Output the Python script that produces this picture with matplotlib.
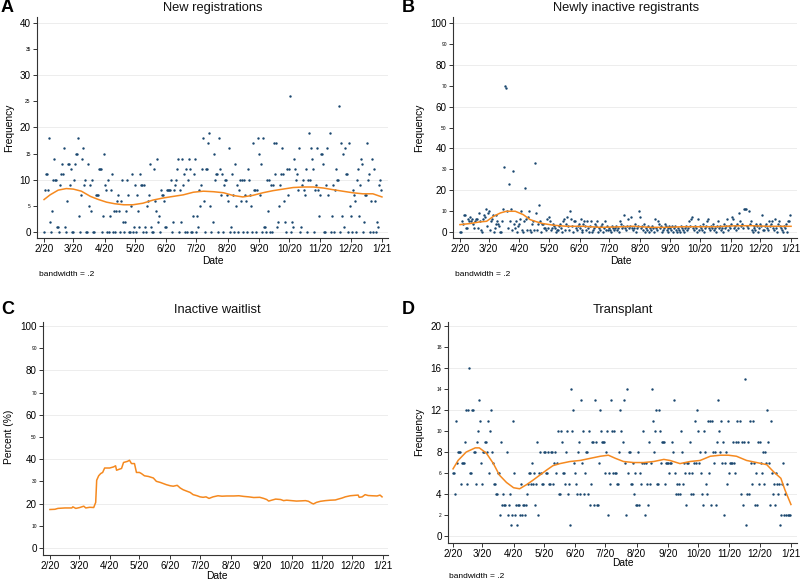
import numpy as np
import pandas as pd
import matplotlib
matplotlib.use("Agg")
import matplotlib.pyplot as plt
from matplotlib.ticker import FixedLocator, FixedFormatter

plt.rcParams['font.family'] = ['Liberation Sans', 'DejaVu Sans']

START = pd.Timestamp("2020-02-01")

# ---- tick labels ----
month_labels = ["2/20", "3/20", "4/20", "5/20", "6/20", "7/20", "8/20",
                "9/20", "10/20", "11/20", "12/20", "1/21"]
month_starts = pd.date_range("2020-02-01", "2021-01-01", freq="MS")

# ---- A: new registrations (daily counts, Feb..Dec 2020) ----
reg_feb = [0,8,11,11,8,18,2,0,4,10,14,10,10,1,1,0,9,11,13,11,16,1,0,6,13,13,9,12,0]
reg_mar = [0,10,13,15,15,18,3,0,7,14,16,9,10,0,0,13,5,9,4,10,0,0,7,7,7,12,12,12,0,3,15]
reg_apr = [9,8,0,10,0,3,8,11,0,4,0,4,6,7,4,0,6,10,2,0,2,4,10,7,0,0,5,11,0,1]
reg_may = [9,0,7,4,1,11,9,9,0,9,1,0,5,6,7,13,1,0,0,12,6,4,14,2,3,0,8,7,7,6,1]
reg_jun = [1,8,8,8,8,10,0,2,8,9,10,12,14,0,8,2,14,9,11,0,12,0,10,14,12,0,0,3,11,14]
reg_jul = [0,3,1,8,5,9,12,18,6,0,12,12,17,19,5,0,2,15,10,11,11,0,18,12,7,11,0,9,10,10,7]
reg_aug = [6,16,0,1,11,7,0,13,5,9,0,8,10,6,10,0,10,7,6,0,12,10,7,5,0,17,8,8,0,8,18]
reg_sep = [15,7,13,0,18,1,1,0,10,4,10,0,9,0,9,17,11,17,1,2,5,9,11,16,11,6,2,0,12,7]
reg_oct = [12,26,0,2,1,14,12,10,11,8,16,0,1,9,10,8,7,12,0,10,19,10,16,14,12,0,8,9,16,8,3]
reg_nov = [7,15,15,13,0,0,9,16,7,19,0,3,9,0,8,12,10,10,24,0,17,3,15,1,16,11,11,0,17,5]
reg_dec = [3,0,8,7,6,0,10,12,3,9,14,13,0,2,7,7,17,10,11,0,6,14,0,12,6,0,2,1,9,10,8]
new_reg = (reg_feb + reg_mar + reg_apr + reg_may + reg_jun + reg_jul + reg_aug
           + reg_sep + reg_oct + reg_nov + reg_dec)

# lowess fit (bandwidth .2): day offset, value
reg_fit_day = [0,6,14,22,29,37,46,54,62,70,79,88,98,108,118,128,138,148,158,168,
               178,187,197,207,217,227,237,247,257,267,277,286,296,306,316,326,335]
reg_fit_val = [6.2,7.1,8.0,8.3,8.2,7.8,6.8,6.2,5.7,5.4,5.2,5.2,5.5,6.1,6.5,6.8,7.1,
               7.6,7.8,7.7,7.5,7.0,6.7,7.0,7.5,7.9,8.2,8.5,8.6,8.6,8.4,8.1,7.8,7.5,
               7.3,7.3,6.7]

# ---- B: newly inactive registrants ----
ina_feb = [0,0,5,4,8,8,2,2,6,5,7,5,6,4,2,5,6,6,2,9,5,1,0,6,8,7,11,3,9]
ina_mar = [10,1,5,6,8,0,2,8,4,5,4,3,0,0,5,11,31,70,69,10,2,23,5,11,1,29,4,2,5,0,3]
ina_apr = [4,6,10,1,0,5,21,6,1,7,10,1,0,4,5,1,33,9,1,4,13,5,0,4,4,2,2,1,6,2]
ina_may = [7,5,1,2,4,3,2,0,1,1,3,4,2,0,5,6,1,4,7,3,1,10,6,3,0,5,5,2,1,3,4]
ina_jun = [2,6,0,1,4,5,3,1,5,2,0,3,5,0,1,2,4,3,5,0,2,1,3,4,0,2,5,1,3,1]
ina_jul = [2,1,0,3,2,1,2,3,1,2,0,5,4,2,3,8,2,1,3,6,2,3,7,2,1,2,4,0,2,3,10]
ina_aug = [7,2,3,1,4,0,2,1,3,0,2,1,3,2,0,6,2,1,5,4,2,3,0,1,2,4,3,1,0,2,3]
ina_sep = [2,1,3,0,2,3,1,0,2,1,0,3,2,1,0,2,3,1,2,5,3,6,7,2,1,3,2,0,6,1]
ina_oct = [3,2,1,4,0,2,3,5,6,2,1,3,2,4,1,2,0,3,5,2,3,1,2,0,4,2,3,6,1,3,2]
ina_nov = [4,7,6,2,3,1,4,2,9,5,3,4,2,11,11,11,3,2,10,4,5,1,0,3,2,1,4,3,0,2]
ina_dec = [4,3,8,1,1,3,4,2,1,5,3,4,5,2,1,6,2,0,4,5,3,2,1,0,3,2,4,0,5,5,8]
new_inactive = (ina_feb + ina_mar + ina_apr + ina_may + ina_jun + ina_jul + ina_aug
                + ina_sep + ina_oct + ina_nov + ina_dec)

ina_fit_day = [0,10,20,27,34,41,47,56,64,71,78,84,95,108,125,142,159,176,193,209,
               226,243,260,277,294,311,335]
ina_fit_val = [3.5,4.0,4.8,5.1,7.5,9.1,9.9,9.9,8.3,5.9,4.8,4.0,3.2,2.7,2.7,2.2,2.4,
               2.7,2.2,2.2,2.5,2.5,2.5,2.9,3.0,2.7,2.7]

# ---- C: inactive waitlist percent ----
wl_day = [0,5,8,15,22,23,26,30,34,36,40,44,46,47,49,51,53,55,60,64,66,67,70,72,74,
          78,80,82,85,87,90,92,95,99,104,107,111,114,117,121,124,128,131,134,138,
          141,144,148,151,154,157,160,164,169,173,178,185,190,195,200,205,211,215,
          218,220,223,227,232,235,238,243,248,253,257,260,263,265,268,272,277,282,
          287,290,294,297,302,307,310,311,314,317,320,324,329,332,334]
wl_pct = [17.3,17.4,17.8,18.0,18.0,18.5,17.8,18.2,18.8,18.0,18.3,18.2,20.5,30.5,
          32.5,33.5,34.0,36.0,36.0,36.5,37.0,35.0,35.5,35.8,38.5,39.0,39.5,38.0,
          38.0,34.0,34.0,33.5,32.5,32.2,31.5,30.0,29.5,29.0,28.5,28.0,27.8,28.2,
          27.0,26.2,25.5,25.0,24.0,23.5,23.0,22.8,23.0,22.3,23.0,23.5,23.3,23.4,
          23.4,23.5,23.2,23.0,22.7,22.8,22.3,21.8,21.1,21.5,22.0,21.8,21.3,21.5,
          21.3,21.1,21.2,21.3,21.0,20.2,19.8,20.5,21.0,21.3,21.5,21.6,22.0,22.5,
          23.0,23.5,23.7,23.8,22.8,23.0,24.0,23.6,23.5,23.4,23.8,23.0]

# ---- D: transplant ----
tx_feb = [6,6,4,11,7,8,8,8,5,7,7,7,9,12,5,12,16,6,6,12,12,8,8,5,9,10,13,11,7]
tx_mar = [5,8,8,9,9,8,11,6,10,12,8,7,5,5,4,4,6,6,2,9,3,4,3,3,8,2,3,4,1,2,11]
tx_apr = [6,2,3,1,3,3,2,5,2,3,3,2,3,4,5,6,6,5,7,5,6,3,5,9,2,6,8,6,5,5]
tx_may = [8,8,6,6,8,5,5,8,8,5,7,8,6,7,10,4,4,10,9,6,6,5,8,10,4,5,1,14,10,12,7]
tx_jun = [6,5,4,8,9,4,13,7,10,4,6,8,8,4,10,3,5,9,9,3,13,9,3,3,7,12,10,9,9,9]
tx_jul = [6,8,10,2,6,5,13,10,6,10,6,6,5,5,8,12,10,9,13,7,2,14,6,8,8,5,5,7,4,6,3]
tx_aug = [3,8,3,6,5,7,10,7,2,7,5,3,9,5,7,14,11,8,10,12,5,5,12,10,7,9,9,9,5,7,7]
tx_sep = [7,6,7,7,9,8,13,6,4,5,4,5,4,10,8,5,7,6,3,7,7,6,9,4,6,4,7,11,7,12]
tx_oct = [10,7,8,6,4,3,10,8,5,4,11,6,11,3,11,8,7,8,3,9,13,10,8,11,7,9,2,7,8,5,11]
tx_nov = [6,7,7,7,9,7,6,9,11,9,11,4,9,3,9,15,1,4,9,4,11,7,5,11,7,3,6,3,9,5]
tx_dec = [9,7,6,8,5,8,7,12,9,7,3,11,6,4,5,3,6,5,4,5,1,2,5,7,2,4,2,5,2,2,2]
transplant = (tx_feb + tx_mar + tx_apr + tx_may + tx_jun + tx_jul + tx_aug
              + tx_sep + tx_oct + tx_nov + tx_dec)

tx_fit_day = [0,5,13,22,26,33,40,46,53,60,66,73,79,86,93,99,106,116,126,136,146,154,
              161,169,179,189,199,209,215,225,235,245,255,265,273,281,291,301,311,
              318,325,329,335]
tx_fit_val = [6.4,7.2,8.0,8.4,8.4,7.9,6.9,5.8,5.1,4.6,4.5,4.9,5.3,5.8,6.3,6.7,6.9,
              7.1,7.2,7.4,7.6,7.7,7.4,7.1,7.0,7.0,7.1,7.3,7.2,6.9,7.1,7.2,7.6,7.7,
              7.7,7.6,7.2,7.0,6.8,6.1,5.5,4.4,3.0]

NAVY = "#1a476f"
ORANGE = "#f5891f"
W, H = 800, 581


def days(offsets):
    return START + pd.to_timedelta(offsets, unit="D")


def style_axis(ax, ylim, majors, minors, x_lo, x_hi):
    ax.set_xlim(START + pd.Timedelta(days=x_lo), START + pd.Timedelta(days=x_hi))
    ax.set_ylim(*ylim)
    for s in ["top", "right"]:
        ax.spines[s].set_visible(False)
    for s in ["left", "bottom"]:
        ax.spines[s].set_color("#333333")
        ax.spines[s].set_linewidth(0.8)
    ax.yaxis.set_major_locator(FixedLocator(majors))
    ax.yaxis.set_major_formatter(FixedFormatter([str(v) for v in majors]))
    ax.yaxis.set_minor_locator(FixedLocator(minors))
    ax.yaxis.set_minor_formatter(FixedFormatter([str(v) for v in minors]))
    ax.set_xticks(month_starts)
    ax.set_xticklabels(month_labels)
    ax.xaxis.set_minor_locator(FixedLocator([]))
    ax.tick_params(axis="both", which="major", labelsize=7.1, length=3,
                   width=0.7, color="#333333", pad=1.5)
    ax.tick_params(axis="y", which="minor", labelsize=3.5, length=3,
                   width=0.7, color="#333333", pad=1.5)
    for v in majors:
        ax.axhline(v, color="#ededed", lw=0.7, zorder=0)


def ax_at(left, top, right, bottom):
    return fig.add_axes([left / W, 1 - bottom / H, (right - left) / W, (bottom - top) / H])


fig = plt.figure(figsize=(8, 5.81), dpi=100)

# panel A
axA = ax_at(37, 17, 388, 238)
style_axis(axA, (-1.15, 41.1), [0, 10, 20, 30, 40], [5, 15, 25, 35], -7, 341)
axA.scatter(days(np.arange(len(new_reg))), new_reg, s=3, color=NAVY, lw=0, zorder=3)
axA.plot(days(reg_fit_day), reg_fit_val, color=ORANGE, lw=1.1, zorder=4)

# panel B
axB = ax_at(453, 17, 797, 238)
style_axis(axB, (-2.9, 102.9), [0, 20, 40, 60, 80, 100], [10, 30, 50, 70, 90], -7, 341)
axB.scatter(days(np.arange(len(new_inactive))), new_inactive, s=3, color=NAVY, lw=0, zorder=3)
axB.plot(days(ina_fit_day), ina_fit_val, color=ORANGE, lw=1.1, zorder=4)

# panel C
axC = ax_at(43, 322, 388, 555)
style_axis(axC, (-3.2, 101.8), [0, 20, 40, 60, 80, 100], [10, 30, 50, 70, 90], -7, 340)
axC.plot(days(wl_day), wl_pct, color=ORANGE, lw=1.1, zorder=4)

# panel D
axD = ax_at(448, 322, 797, 543)
style_axis(axD, (-0.67, 20.4), [0, 4, 8, 12, 16, 20], [2, 6, 10, 14, 18], -5, 341)
axD.scatter(days(np.arange(len(transplant))), transplant, s=3, color=NAVY, lw=0, zorder=3)
axD.plot(days(tx_fit_day), tx_fit_val, color=ORANGE, lw=1.1, zorder=4)


def ftext(x, y, s, **kw):
    fig.text(x / W, 1 - y / H, s, **kw)


# titles and panel letters
for x, y, s in [(213, 8, "New registrations"), (626, 8, "Newly inactive registrants"),
                (217, 310, "Inactive waitlist"), (623, 310, "Transplant")]:
    ftext(x, y, s, ha="center", va="center", fontsize=9.3, color="#111111")
for x, y, s in [(1, 8, "A"), (402, 8, "B"), (1, 310, "C"), (402, 310, "D")]:
    ftext(x, y, s, ha="left", va="center", fontsize=13, fontweight="bold")

# axis labels
for x, y, s in [(9, 128, "Frequency"), (419, 128, "Frequency"),
                (9, 437, "Percent (%)"), (419, 432, "Frequency")]:
    ftext(x, y, s, ha="center", va="center", rotation=90, fontsize=7.4)
for x, y in [(213, 261), (621, 261), (217, 576), (623, 563)]:
    ftext(x, y, "Date", ha="center", va="center", fontsize=7.4)
for x, y in [(39, 275), (455, 275), (449, 577)]:
    ftext(x, y, "bandwidth = .2", ha="left", va="center", fontsize=6)

fig.savefig("out.png", dpi=100)
